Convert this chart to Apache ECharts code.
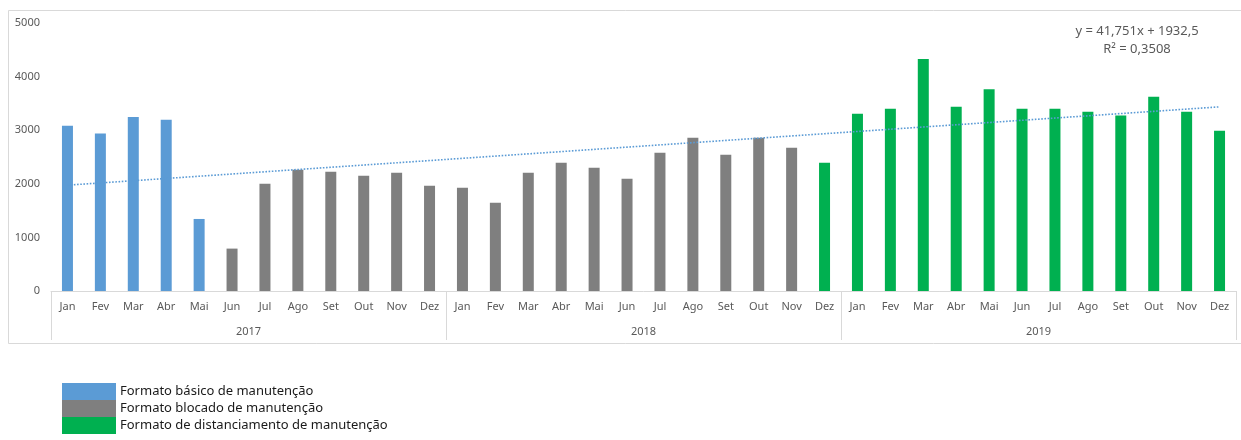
<!DOCTYPE html>
<html>
<head>
<meta charset="utf-8">
<script src="https://cdn.jsdelivr.net/npm/echarts@6/dist/echarts.min.js"></script>
<style>
  html, body { margin: 0; padding: 0; background: #fff; }
  #chart { width: 1241px; height: 440px; }
</style>
</head>
<body>
<div id="chart"></div>
<script>
// Month labels (repeated for each year) and the year groups
const months = ['Jan', 'Fev', 'Mar', 'Abr', 'Mai', 'Jun', 'Jul', 'Ago', 'Set', 'Out', 'Nov', 'Dez'];
const years = ['2017', '2018', '2019'];

// Monthly values per maintenance format, in chronological order
// Basic format: Jan–Mai 2017
const basicValues = [3082, 2939, 3244, 3194, 1344];
// Blocked format: Jun 2017 – Nov 2018
const blockedValues = [791, 2002, 2263, 2225, 2151, 2207, 1965,
                       1927, 1648, 2207, 2393, 2300, 2095, 2579, 2858, 2542, 2858, 2672];
// Distancing format: Dez 2018 – Dez 2019
const distancingValues = [2393,
                          3305, 3399, 4330, 3436, 3765, 3399, 3399, 3343, 3274, 3622, 3343, 2989];

// Linear trend as stated in the chart label
const trendSlope = 41.751;
const trendIntercept = 1932.5;
const trendLabel = ['y = 41,751x + 1932,5', 'R² = 0,3508'];

const seriesNames = ['Formato básico de manutenção', 'Formato blocado de manutenção', 'Formato de distanciamento de manutenção'];
const colors = ['#5B9BD5', '#7F7F7F', '#00B050'];

const categories = [];
years.forEach(y => months.forEach(m => categories.push(m)));
const total = categories.length;

function placeAt(start, values) {
  const arr = new Array(total).fill(null);
  values.forEach((v, i) => { arr[start + i] = v; });
  return arr;
}
const basicData = placeAt(0, basicValues);
const blockedData = placeAt(basicValues.length, blockedValues);
const distancingData = placeAt(basicValues.length + blockedValues.length, distancingValues);
const trendData = categories.map((_, i) => +(trendSlope * (i + 1) + trendIntercept).toFixed(1));

const font = 'Noto Sans, Liberation Sans, sans-serif';
const chart = echarts.init(document.getElementById('chart'), null, { renderer: 'canvas' });

chart.setOption({
  animation: false,
  backgroundColor: '#ffffff',
  textStyle: { fontFamily: font },
  grid: { left: 51, right: 5, top: 23, bottom: 149, containLabel: false },
  legend: {
    data: seriesNames,
    orient: 'vertical',
    left: 62,
    top: 383,
    height: 60,
    padding: 0,
    itemWidth: 54,
    itemHeight: 17,
    itemGap: 0,
    icon: 'rect',
    selectedMode: false,
    textStyle: { color: '#1a1a1a', fontSize: 13, fontFamily: font, padding: [0, 0, 0, -1] }
  },
  xAxis: [
    {
      type: 'category',
      data: categories,
      boundaryGap: true,
      axisLine: { show: true, lineStyle: { color: '#D9D9D9', width: 1 } },
      axisTick: { show: false },
      axisLabel: { color: '#595959', fontSize: 11, margin: 10, interval: 0, fontFamily: font }
    },
    {
      type: 'category',
      data: years,
      position: 'bottom',
      offset: 49,
      boundaryGap: true,
      axisLine: { show: false },
      axisTick: { show: true, inside: true, length: 49, lineStyle: { color: '#D9D9D9', width: 1 } },
      axisLabel: { inside: true, margin: 3, color: '#595959', fontSize: 11, fontFamily: font }
    }
  ],
  yAxis: {
    type: 'value',
    min: 0,
    max: 5000,
    interval: 1000,
    axisLine: { show: false },
    axisTick: { show: false },
    splitLine: { show: false },
    axisLabel: {
      color: '#595959', fontSize: 11, margin: 11, fontFamily: font,
      formatter: v => String(v)
    }
  },
  graphic: [
    {
      type: 'rect',
      shape: { x: 8.5, y: 10.5, width: 1240, height: 333 },
      style: { fill: 'none', stroke: '#D9D9D9', lineWidth: 1 },
      silent: true,
      z: -1
    },
    {
      type: 'text',
      x: 1137,
      y: 31,
      style: { text: trendLabel[0], fill: '#595959', font: '13px ' + font, align: 'center', verticalAlign: 'middle' }
    },
    {
      type: 'text',
      x: 1137,
      y: 49,
      style: { text: trendLabel[1], fill: '#595959', font: '13px ' + font, align: 'center', verticalAlign: 'middle' }
    }
  ],
  series: [
    {
      name: seriesNames[0], type: 'bar', stack: 'fmt', barWidth: 11,
      itemStyle: { color: colors[0] }, data: basicData
    },
    {
      name: seriesNames[1], type: 'bar', stack: 'fmt', barWidth: 11,
      itemStyle: { color: colors[1] }, data: blockedData
    },
    {
      name: seriesNames[2], type: 'bar', stack: 'fmt', barWidth: 11,
      itemStyle: { color: colors[2] }, data: distancingData
    },
    {
      name: 'Linear', type: 'line', data: trendData,
      symbol: 'none', silent: true, z: 5,
      lineStyle: { color: '#5B9BD5', width: 1.6, type: [1.6, 1.6] }
    }
  ]
});
</script>
</body>
</html>
